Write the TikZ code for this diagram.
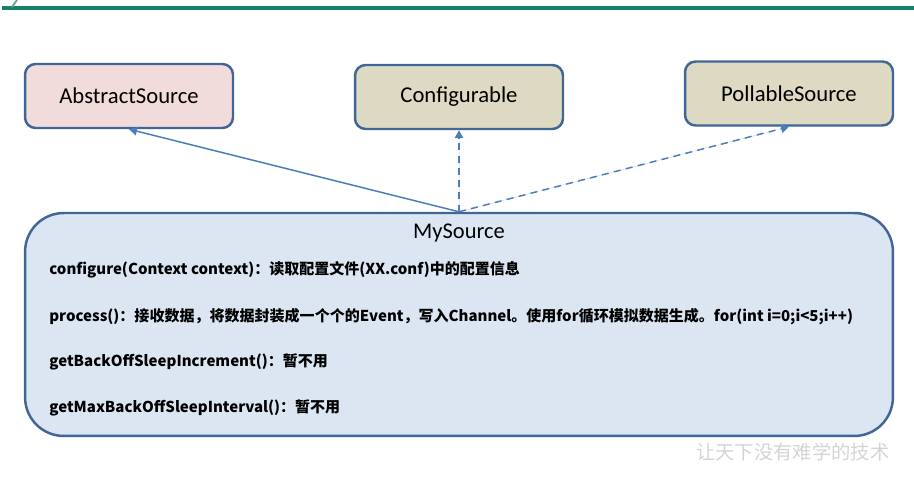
\documentclass[tikz,border=0pt]{standalone}
\usepackage{fontspec}
\setmainfont{Carlito}
\newfontfamily\cjk{Noto Sans CJK SC}
\usepackage{xcolor}
\usetikzlibrary{arrows.meta,positioning}
\definecolor{boxborder}{HTML}{3F6696}
\definecolor{abstractpink}{HTML}{F2DCDB}
\definecolor{ifacetan}{HTML}{DDD9C3}
\definecolor{sourceblue}{HTML}{DCE6F2}
\definecolor{linkblue}{HTML}{4A7EBB}
\definecolor{slidegreen}{HTML}{17806A}
\definecolor{markgray}{HTML}{D4D4D4}

\begin{document}
\begin{tikzpicture}[
  x=0.02cm,y=-0.02cm,
  every node/.style={align=center},
  classbox/.style={draw=boxborder,line width=1.4pt,rounded corners=6pt,minimum width=4.16cm,minimum height=1.28cm,font=\fontsize{12.9}{15}\selectfont},
  bigbox/.style={draw=boxborder,line width=1.4pt,rounded corners=22pt,fill=sourceblue,minimum width=17.36cm,minimum height=4.46cm},
  methodtext/.style={anchor=west,inner sep=0pt,font=\cjk\bfseries\fontsize{8.55}{10}\selectfont},
  inherit/.style={-{Triangle[length=1.6mm,width=1.7mm]},line width=0.85pt,draw=linkblue,fill=linkblue},
  realize/.style={inherit,dash pattern=on 4pt off 3pt}
]
\useasboundingbox (0,0) rectangle (914,486);
% slide header line
\draw[slidegreen,line width=1.8pt] (2,8) -- (914,8);
\draw[slidegreen!70,line width=1pt] (12,7) -- (17,0);

\node[bigbox] (mysource) at (459,324.5) {};
\node[classbox,fill=abstractpink] (abstract) at (129,96) {AbstractSource};
\node[classbox,fill=ifacetan] (configurable) at (459,97) {Configurable};
\node[classbox,fill=ifacetan] (pollable) at (789,93.5) {PollableSource};

\node[font=\fontsize{12.8}{15}\selectfont,below=0.12cm of mysource.north] (title) {MySource};
\node[methodtext] (configure) at (49,270) {configure(Context context)：读取配置文件(XX.conf)中的配置信息};
\node[methodtext] (process) at (49,317) {process()：接收数据，将数据封装成一个个的Event，写入Channel。使用for循环模拟数据生成。for(int i=0;i<5;i++)};
\node[methodtext] (increment) at (49,362) {getBackOffSleepIncrement()：暂不用};
\node[methodtext] (interval) at (49,408) {getMaxBackOffSleepInterval()：暂不用};

\node[font=\cjk\fontsize{11}{13}\selectfont,text=markgray,anchor=west] (mark) at (690,452) {让天下没有难学的技术};

\draw[inherit] (mysource.north) -- (abstract.south);
\draw[realize] (mysource.north) -- (configurable.south);
\draw[realize] (mysource.north) -- (pollable.south);
\end{tikzpicture}
\end{document}
